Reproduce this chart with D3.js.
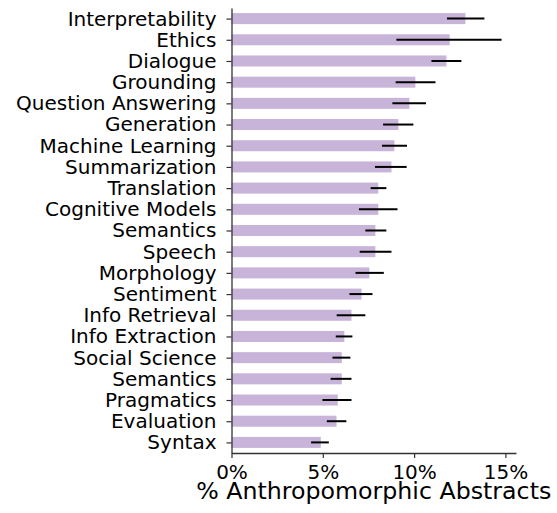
<!DOCTYPE html>
<html>
<head>
<meta charset="utf-8">
<script src="https://cdn.jsdelivr.net/npm/d3@7"></script>
<style>
  body { margin: 0; background: #fff; }
  text { font-family: "DejaVu Sans", sans-serif; fill: #000; }
</style>
</head>
<body>
<div id="chart"></div>
<script>
// Data (percent of abstracts), top to bottom
const topics = ["Interpretability", "Ethics", "Dialogue", "Grounding", "Question Answering",
  "Generation", "Machine Learning", "Summarization", "Translation", "Cognitive Models",
  "Semantics", "Speech", "Morphology", "Sentiment", "Info Retrieval", "Info Extraction",
  "Social Science", "Semantics", "Pragmatics", "Evaluation", "Syntax"];
const values = [12.81, 11.95, 11.77, 10.07, 9.74, 9.14, 8.92, 8.76, 8.04, 8.04,
  7.88, 7.88, 7.55, 7.12, 6.57, 6.18, 6.04, 6.04, 5.82, 5.75, 4.89];
const errLow = [11.80, 9.03, 10.95, 8.99, 8.81, 8.30, 8.24, 7.86, 7.62, 6.98,
  7.33, 7.02, 6.79, 6.46, 5.76, 5.71, 5.53, 5.43, 4.98, 5.22, 4.36];
const errHigh = [13.85, 14.79, 12.59, 11.17, 10.65, 9.96, 9.61, 9.59, 8.48, 9.09,
  8.48, 8.76, 8.34, 7.72, 7.33, 6.62, 6.51, 6.57, 6.57, 6.29, 5.33];
const xTicks = [0, 5, 10, 15];

const margin = { top: 8, right: 41, bottom: 60, left: 231.5 };
const W = 557, H = 513;
const width = W - margin.left - margin.right;
const height = H - margin.top - margin.bottom;

const svg = d3.select("#chart").append("svg")
  .attr("width", W).attr("height", H)
  .append("g")
  .attr("transform", `translate(${margin.left},${margin.top})`);

const x = d3.scaleLinear().domain([0, 15.58]).range([0, width]);
// index positions, bar thickness about half a slot
const y = d3.scaleLinear().domain([-0.5, topics.length - 0.5]).range([0, height]);
const slot = y(1) - y(0);
const barH = slot * 0.52;

const rows = topics.map((t, i) => ({ t, i, v: values[i], lo: errLow[i], hi: errHigh[i] }));

svg.selectAll(".bar")
  .data(rows)
  .enter().append("rect")
  .attr("x", 0)
  .attr("y", d => y(d.i) - barH / 2)
  .attr("width", d => x(d.v))
  .attr("height", barH)
  .attr("fill", "#c8b3d9");

svg.selectAll(".err")
  .data(rows)
  .enter().append("line")
  .attr("x1", d => x(d.lo))
  .attr("x2", d => x(d.hi))
  .attr("y1", d => y(d.i))
  .attr("y2", d => y(d.i))
  .attr("stroke", "#000")
  .attr("stroke-width", 2);

// Axes
const yAxis = svg.append("g")
  .call(d3.axisLeft(y).tickValues(d3.range(topics.length)).tickFormat(i => topics[i])
    .tickSize(5).tickPadding(10).tickSizeOuter(0));
yAxis.select(".domain").attr("stroke", "#333").attr("stroke-width", 1.3);
yAxis.selectAll(".tick line").attr("stroke", "#333").attr("stroke-width", 1.2);
yAxis.selectAll("text").style("font-size", "20px").style("font-family", "DejaVu Sans").attr("fill", "#000");

const xAxis = svg.append("g")
  .attr("transform", `translate(0,${height})`)
  .call(d3.axisBottom(x).tickValues(xTicks).tickFormat(d => d + "%")
    .tickSize(5).tickPadding(7).tickSizeOuter(0));
xAxis.select(".domain").attr("stroke", "#333").attr("stroke-width", 1.3);
xAxis.selectAll(".tick line").attr("stroke", "#333").attr("stroke-width", 1.2);
xAxis.selectAll("text").style("font-size", "20px").style("font-family", "DejaVu Sans").attr("fill", "#000");

svg.append("text")
  .attr("x", width / 2)
  .attr("y", height + 46)
  .attr("text-anchor", "middle")
  .style("font-size", "23.7px")
  .text("% Anthropomorphic Abstracts");
</script>
</body>
</html>
